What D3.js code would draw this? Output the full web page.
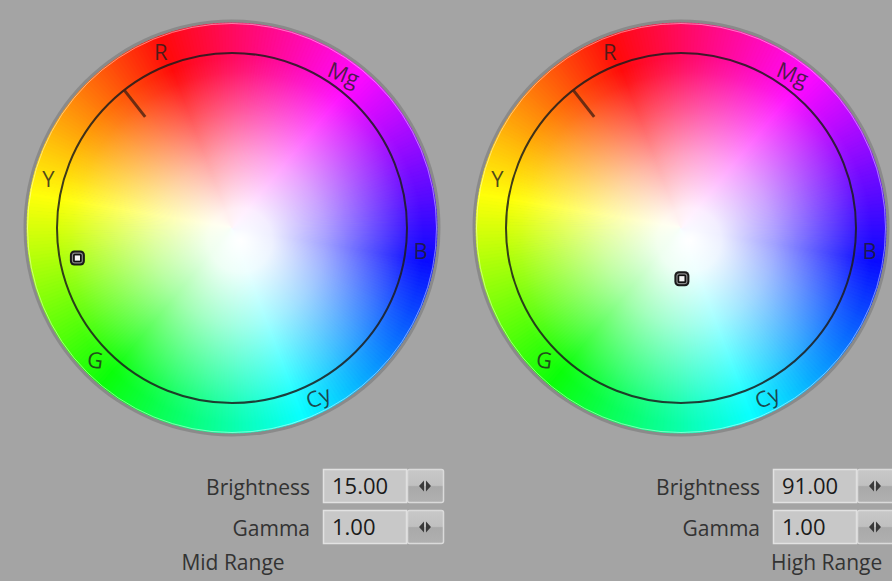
<!DOCTYPE html>
<html>
<head>
<meta charset="utf-8">
<script src="https://cdn.jsdelivr.net/npm/d3@7"></script>
<style>
  body { margin: 0; background: #a4a4a4; }
  svg { display: block; font-family: "Open Sans", "Noto Sans", sans-serif; }
</style>
</head>
<body>
<svg id="chart" width="892" height="581"></svg>
<script>
// values
const panelNames = ["Mid Range", "High Range"];
const brightness = [15.00, 91.00];
const gamma = [1.00, 1.00];
const hueLabels = ["R", "Mg", "B", "Cy", "G", "Y"];
const hueLabelHues = [2, 304, 243, 187, 114, 55];
const hueLabelTilt = [0, 22, 0, -22, 8, 0];
const markerHue = [81, 161];     // where the little square sits
const markerSat = [0.9, 0.29];   // 0 = centre, 1 = black circle
const tickHue = [18, 18];        // short indicator line

const width = 892, height = 581;
const svg = d3.select("#chart");
const defs = svg.append("defs");

svg.append("rect").attr("width", width).attr("height", height).attr("fill", "#a4a4a4");

const outerR = 205, innerR = 175;
const wheelCx = [232, 681], wheelCy = 228;

// hue (deg) -> math angle on screen, red sits up-left
const hueToAngle = d3.scaleLinear().domain([0, 360]).range([110, 470]);
const satToR = d3.scaleLinear().domain([0, 1]).range([0, innerR]);

function polar(h, r) {
  const a = hueToAngle(h) * Math.PI / 180;
  return [r * Math.cos(a), -r * Math.sin(a)];
}

// white overlay for the centre
const wg = defs.append("radialGradient").attr("id", "whiteFade")
  .attr("cx", "52%").attr("cy", "53%").attr("r", "52%");
wg.append("stop").attr("offset", "0%").attr("stop-color", "#fff").attr("stop-opacity", 1);
wg.append("stop").attr("offset", "15%").attr("stop-color", "#fff").attr("stop-opacity", 0.93);
wg.append("stop").attr("offset", "40%").attr("stop-color", "#fff").attr("stop-opacity", 0.62);
wg.append("stop").attr("offset", "62%").attr("stop-color", "#fff").attr("stop-opacity", 0.3);
wg.append("stop").attr("offset", "79%").attr("stop-color", "#fff").attr("stop-opacity", 0.06);
wg.append("stop").attr("offset", "86%").attr("stop-color", "#fff").attr("stop-opacity", 0);
wg.append("stop").attr("offset", "100%").attr("stop-color", "#fff").attr("stop-opacity", 0);

// spinner gradient
const sg = defs.append("linearGradient").attr("id", "spin").attr("x1", 0).attr("y1", 0).attr("x2", 0).attr("y2", 1);
sg.append("stop").attr("offset", "0%").attr("stop-color", "#c8c8c8");
sg.append("stop").attr("offset", "48%").attr("stop-color", "#c0c0c0");
sg.append("stop").attr("offset", "52%").attr("stop-color", "#a9a9a9");
sg.append("stop").attr("offset", "100%").attr("stop-color", "#b0b0b0");

const hues = d3.range(0, 360, 1);
const arc = d3.arc().innerRadius(0).outerRadius(outerR);

panelNames.forEach((name, i) => {
  const g = svg.append("g").attr("transform", `translate(${wheelCx[i]},${wheelCy})`);

  // gray rim
  g.append("circle").attr("r", outerR + 3.5).attr("fill", "#8a8a8a");

  // hue wedges
  g.selectAll("path.wedge")
    .data(hues)
    .enter()
    .append("path")
    .attr("class", "wedge")
    .attr("d", h => {
      const a0 = hueToAngle(h), a1 = hueToAngle(h + 1.2);
      // d3.arc measures clockwise from 12 o'clock
      return arc({ startAngle: (90 - a1) * Math.PI / 180, endAngle: (90 - a0) * Math.PI / 180 });
    })
    .attr("fill", h => d3.hsl(h, 1, 0.52))
    .attr("stroke", h => d3.hsl(h, 1, 0.52))
    .attr("stroke-width", 0.6);

  g.append("circle").attr("r", outerR).attr("fill", "url(#whiteFade)");
  g.append("circle").attr("r", outerR - 0.5).attr("fill", "none")
    .attr("stroke", "#fff").attr("stroke-opacity", 0.45).attr("stroke-width", 1);

  // black circle
  g.append("circle").attr("r", innerR).attr("fill", "none")
    .attr("stroke", "#1c1c1c").attr("stroke-opacity", 0.85).attr("stroke-width", 2);

  // indicator line
  const p0 = polar(tickHue[i], innerR), p1 = polar(tickHue[i], innerR - 34);
  g.append("line")
    .attr("x1", p0[0]).attr("y1", p0[1]).attr("x2", p1[0]).attr("y2", p1[1])
    .attr("stroke", "#4a2010").attr("stroke-opacity", 0.8).attr("stroke-width", 3);

  // hue labels
  hueLabels.forEach((lab, j) => {
    const p = polar(hueLabelHues[j], 190);
    g.append("text")
      .attr("transform", `translate(${p[0]},${p[1]}) rotate(${hueLabelTilt[j]})`)
      .attr("text-anchor", "middle")
      .attr("dy", "0.36em")
      .attr("font-size", 22)
      .attr("fill", "#1e1e1e")
      .attr("fill-opacity", 0.8)
      .text(lab);
  });

  // marker
  const m = polar(markerHue[i], satToR(markerSat[i]));
  const mk = g.append("g").attr("transform", `translate(${m[0]},${m[1]})`);
  mk.append("rect").attr("x", -7.5).attr("y", -7.5).attr("width", 15).attr("height", 15)
    .attr("rx", 4.5).attr("fill", "#1a1a1a");
  mk.append("rect").attr("x", -5.5).attr("y", -5.5).attr("width", 11).attr("height", 11)
    .attr("rx", 3).attr("fill", "#8a8a8a");
  mk.append("rect").attr("x", -4.3).attr("y", -4.3).attr("width", 8.6).attr("height", 8.6)
    .attr("rx", 1.5).attr("fill", "#111");
  mk.append("rect").attr("x", -2.6).attr("y", -2.6).attr("width", 5.2).attr("height", 5.2)
    .attr("fill", "#f4f4f4");

  // controls
  const c = svg.append("g").attr("transform", `translate(${i * 450},0)`);
  const rows = [
    { label: "Brightness", value: brightness[i], y: 469 },
    { label: "Gamma", value: gamma[i], y: 510 }
  ];
  rows.forEach(r => {
    c.append("text")
      .attr("x", 310).attr("y", r.y + 26)
      .attr("text-anchor", "end")
      .attr("font-size", 21)
      .attr("fill", "#333")
      .text(r.label);
    c.append("rect")
      .attr("x", 323.5).attr("y", r.y + 0.5).attr("width", 83).attr("height", 33)
      .attr("fill", "#c8c8c8").attr("stroke", "#e2e2e2").attr("stroke-width", 1.5);
    c.append("text")
      .attr("x", 332).attr("y", r.y + 25)
      .attr("font-size", 22)
      .attr("fill", "#1a1a1a")
      .text(d3.format(".2f")(r.value));
    c.append("rect")
      .attr("x", 407.5).attr("y", r.y + 0.5).attr("width", 36).attr("height", 33)
      .attr("rx", 2)
      .attr("fill", "url(#spin)").attr("stroke", "#dadada").attr("stroke-width", 1.5);
    const ax = 425, ay = r.y + 17;
    c.append("path")
      .attr("d", `M${ax - 1},${ay - 5.5}L${ax - 6},${ay}L${ax - 1},${ay + 5.5}Z`)
      .attr("fill", "#3a3a3a");
    c.append("path")
      .attr("d", `M${ax + 1},${ay - 5.5}L${ax + 6},${ay}L${ax + 1},${ay + 5.5}Z`)
      .attr("fill", "#3a3a3a");
  });
  c.append("text")
    .attr("x", i === 0 ? 233 : 321).attr("y", 570)
    .attr("text-anchor", i === 0 ? "middle" : "start")
    .attr("font-size", 21)
    .attr("fill", "#333")
    .text(name);
});
</script>
</body>
</html>
